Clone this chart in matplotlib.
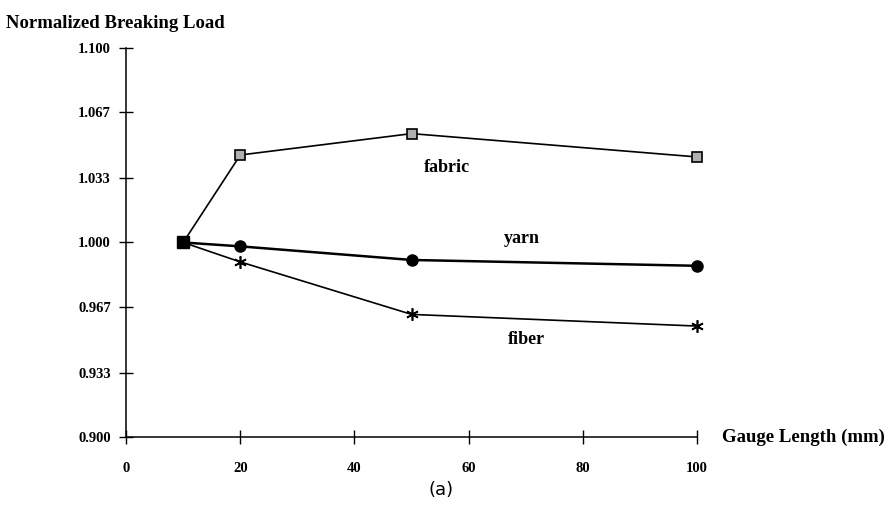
import matplotlib
matplotlib.use("Agg")
import matplotlib.pyplot as plt

# gauge length (mm) and normalized breaking load per material
gauge = [10, 20, 50, 100]
fabric = [1.000, 1.045, 1.056, 1.044]
yarn = [1.000, 0.998, 0.991, 0.988]
fiber = [1.000, 0.990, 0.963, 0.957]

yticks = [0.900, 0.933, 0.967, 1.000, 1.033, 1.067, 1.100]
xticks = [0, 20, 40, 60, 80, 100]

plt.rcParams['font.family'] = ['Liberation Serif', 'DejaVu Serif']
plt.rcParams['font.weight'] = 'bold'

fig = plt.figure(figsize=(8.88, 5.17), dpi=100)
ax = fig.add_axes([0.142, 0.155, 0.643, 0.752])

ax.plot(gauge, fabric, color='black', lw=1.2, marker='s', ms=7,
        mfc='#b0b0b0', mec='black', mew=1.2, zorder=3, clip_on=False)
ax.plot(gauge, yarn, color='black', lw=1.8, marker='o', ms=8,
        mfc='black', mec='black', zorder=3, clip_on=False)
ax.plot(gauge, fiber, color='black', lw=1.2, marker=(6, 2, 0), ms=9,
        mec='black', mew=1.2, zorder=3, clip_on=False)
# shared starting point shown as a solid square
ax.plot(gauge[0], fabric[0], 's', color='black', ms=9, zorder=4)

ax.set_xlim(0, 100)
ax.set_ylim(0.900, 1.100)
ax.set_xticks(xticks)
ax.set_yticks(yticks)
ax.set_yticklabels(['%.3f' % v for v in yticks])
ax.tick_params(direction='inout', length=10, width=1.0, labelsize=10.5)
ax.tick_params(axis='x', pad=13)
ax.tick_params(axis='y', pad=6)
for s in ['top', 'right']:
    ax.spines[s].set_visible(False)
for s in ['left', 'bottom']:
    ax.spines[s].set_linewidth(1.1)

fig.text(0.007, 0.955, 'Normalized Breaking Load', fontsize=13.5,
         fontweight='bold', ha='left', va='center')
fig.text(0.813, 0.155, 'Gauge Length (mm)', fontsize=13.5,
         fontweight='bold', ha='left', va='center')

ax.text(56.2, 1.0385, 'fabric', fontsize=13, fontweight='bold',
        ha='center', va='center')
ax.text(69.4, 1.002, 'yarn', fontsize=13, fontweight='bold',
        ha='center', va='center')
ax.text(70.2, 0.950, 'fiber', fontsize=13, fontweight='bold',
        ha='center', va='center')

fig.text(0.497, 0.052, '(a)', fontsize=13, family='DejaVu Sans',
         fontweight='normal', ha='center', va='center')

fig.savefig('out.png', dpi=100)
